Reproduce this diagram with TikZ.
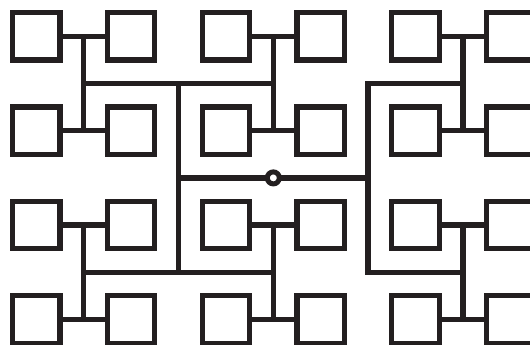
\documentclass[tikz,border=0pt]{standalone}
\definecolor{ink}{RGB}{35,31,32}
\begin{document}
\begin{tikzpicture}[x=1pt,y=-1pt,
  sq/.style={shape=rectangle, draw=ink, line width=5.3pt, minimum size=47.4pt, inner sep=0pt, outer sep=0pt},
  wire/.style={draw=ink, line width=5.3pt, line join=miter, line cap=butt},
  hub/.style={shape=circle, draw=ink, fill=white, line width=5pt, minimum size=12pt, inner sep=0pt, outer sep=0pt}]
\useasboundingbox (0,0) rectangle (530,345);
% squares
\foreach \i/\x in {1/36.3,2/131.1,3/225.9,4/320.7,5/415.5,6/510.3}{
  \foreach \j/\y in {1/36.3,2/130.7,3/225.1,4/319.5}{
    \node[sq] (s\j\i) at (\x,\y) {};
  }
}
% bars between paired squares
\foreach \j in {1,2,3,4}{
  \foreach \a/\b/\g in {1/2/1,3/4/2,5/6/3}{
    \draw[wire] (s\j\a.east) -- (s\j\b.west) coordinate[midway] (b\j\g);
  }
}
% verticals of the small H shapes
\foreach \g in {1,2,3}{
  \draw[wire] (b1\g) -- (b2\g) coordinate[midway] (gt\g);
  \draw[wire] (b3\g) -- (b4\g) coordinate[midway] (gb\g);
}
% left large H
\draw[wire] (gt1) -- (gt2) coordinate[pos=0.5] (lt);
\draw[wire] (gb1) -- (gb2) coordinate[pos=0.5] (lb);
\draw[wire] (lt) -- (lb) coordinate[midway] (lc);
% right bracket
\coordinate (rt) at (368.1,83.5);
\coordinate (rb) at (368.1,272.3);
\draw[wire] (gt3) -- (rt) -- (rb) -- (gb3);
\coordinate (rc) at (368.1,177.9);
% centre hub
\node[hub] (root) at (273.3,177.9) {};
\draw[wire] (lc) -- (root.west);
\draw[wire] (root.east) -- (rc);
\end{tikzpicture}
\end{document}
